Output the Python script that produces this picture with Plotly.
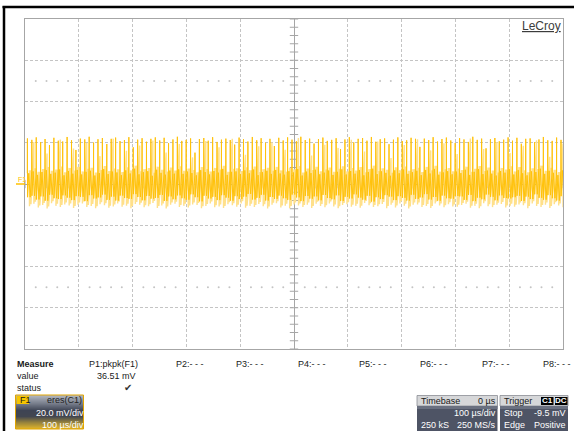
import plotly.graph_objects as go

# ---------------- data (read from the screen capture) ----------------
# time axis: 100 us/div, 10 div, centred on trigger (0 us); vertical: 20 mV/div, 8 div
x_ticks_us = [-500, -400, -300, -200, -100, 0, 100, 200, 300, 400, 500]
y_ticks_mv = [-80, -60, -40, -20, 0, 20, 40, 60, 80]

# switching spikes (one per cycle, 122 cycles across the 1 ms screen), mV
peak = [22.1, 21.4, 22.6, 20.3, 21.8, 18.9, 22.4, 21.0, 20.6, 22.8,
        21.2, 16.5, 22.0, 21.6, 22.9, 20.1, 21.7, 22.3, 19.4, 21.9,
        22.5, 20.8, 21.3, 22.7, 17.8, 21.5, 22.2, 20.5, 21.9, 22.6,
        21.1, 22.4, 19.8, 21.6, 22.9, 20.9, 21.4, 22.1, 15.2, 21.8,
        22.3, 21.0, 22.7, 20.4, 21.5, 22.0, 21.3, 19.1, 22.5, 21.7,
        20.6, 22.8, 21.2, 22.2, 20.0, 21.9, 18.4, 22.4, 21.1, 22.6,
        21.5, 20.7, 22.9, 21.3, 22.0, 19.6, 21.8, 22.5, 20.9, 21.4,
        22.2, 16.9, 21.6, 22.7, 20.2, 21.9, 22.3, 21.0, 22.8, 20.5,
        21.7, 22.1, 19.3, 21.5, 22.6, 20.8, 21.2, 22.4, 21.9, 18.0,
        22.0, 21.3, 22.7, 20.6, 21.8, 22.5, 21.1, 19.9, 22.2, 21.6,
        20.4, 22.9, 21.4, 22.0, 17.3, 21.7, 22.3, 20.7, 21.5, 22.6,
        21.0, 22.4, 19.5, 21.9, 22.1, 20.3, 21.6, 22.8, 21.2, 20.9,
        22.5, 21.4]

# upper edge of the dense ripple band, mV
band_top = [5.2, 6.1, 4.4, 5.8, 6.7, 4.9, 5.5, 7.0, 4.2, 6.3,
            5.0, 6.8, 4.6, 5.9, 6.4, 4.1, 5.3, 7.2, 4.8, 6.0,
            5.6, 4.3, 6.6, 5.1, 7.4, 4.7, 5.7, 6.2, 4.0, 6.9,
            5.4, 4.5, 6.5, 5.0, 7.1, 4.9, 6.0, 5.3, 4.2, 6.7,
            5.8, 4.6, 6.3, 5.5, 7.3, 4.4, 5.9, 6.1, 4.8, 6.6,
            5.2, 7.0, 4.3, 5.7, 6.4, 4.9, 6.8, 5.1, 4.5, 6.2,
            5.6, 7.2, 4.1, 6.0, 5.3, 6.9, 4.7, 5.5, 6.5, 4.4,
            5.9, 7.1, 4.6, 6.3, 5.0, 6.7, 4.2, 5.8, 7.4, 4.8,
            6.1, 5.4, 4.0, 6.6, 5.2, 7.0, 4.9, 5.7, 6.4, 4.3,
            6.8, 5.1, 7.3, 4.5, 5.6, 6.2, 4.7, 6.0, 5.3, 6.9,
            4.4, 5.9, 7.2, 4.8, 6.5, 5.0, 4.1, 6.3, 5.5, 7.1,
            4.6, 6.7, 5.2, 4.2, 6.1, 5.8, 7.4, 4.9, 6.4, 5.4,
            4.3, 6.6]

# lower edge of the dense ripple band, mV
band_bot = [-6.4, -5.7, -7.5, -6.0, -8.1, -5.2, -6.9, -7.3, -5.5, -6.6,
            -7.8, -5.9, -6.2, -8.3, -5.4, -7.0, -6.5, -5.1, -7.7, -6.1,
            -8.0, -5.6, -6.8, -7.2, -4.9, -6.3, -7.9, -5.8, -7.1, -6.7,
            -5.3, -8.2, -6.0, -7.4, -5.5, -6.9, -7.6, -5.0, -6.4, -8.4,
            -5.7, -7.0, -6.2, -7.8, -5.4, -6.6, -8.1, -5.9, -7.3, -6.1,
            -4.8, -7.5, -6.7, -5.2, -8.0, -6.3, -7.2, -5.6, -6.9, -7.7,
            -5.1, -6.5, -8.3, -5.8, -7.1, -6.0, -7.9, -5.3, -6.8, -7.4,
            -5.5, -8.2, -6.2, -7.0, -5.0, -6.6, -7.6, -5.7, -8.5, -6.4,
            -7.3, -5.4, -6.1, -7.8, -5.9, -6.7, -8.0, -5.2, -7.2, -6.5,
            -4.9, -7.5, -6.3, -8.1, -5.6, -6.9, -7.1, -5.8, -6.0, -7.7,
            -5.3, -8.3, -6.6, -7.4, -5.1, -6.2, -7.9, -5.5, -6.8, -7.0,
            -6.4, -5.7, -8.2, -6.1, -7.3, -5.0, -6.7, -7.6, -5.4, -6.9,
            -8.0, -5.9]

# faint (persistence) negative excursions, mV
dip = [-10.8, -9.6, -11.4, -10.2, -11.9, -9.3, -10.6, -11.1, -9.9, -10.4,
       -11.6, -10.0, -9.5, -11.2, -10.7, -11.8, -9.8, -10.3, -11.5, -10.9,
       -9.4, -11.0, -10.5, -11.7, -9.7, -10.1, -11.3, -10.8, -9.2, -11.6,
       -10.4, -11.9, -10.0, -9.6, -11.1, -10.6, -11.4, -9.9, -10.2, -11.8,
       -10.7, -9.5, -11.3, -10.9, -11.6, -9.8, -10.3, -11.0, -9.4, -11.5,
       -10.6, -11.2, -9.7, -10.8, -11.9, -10.1, -9.3, -11.4, -10.5, -11.7,
       -9.9, -10.4, -11.1, -10.0, -11.6, -9.6, -10.7, -11.3, -9.5, -10.9,
       -11.8, -10.2, -9.8, -11.0, -10.6, -11.5, -9.2, -10.3, -11.2, -10.8,
       -9.7, -11.7, -10.1, -11.4, -9.4, -10.5, -11.9, -10.0, -9.9, -11.1,
       -10.7, -11.6, -9.5, -10.4, -11.3, -9.8, -10.9, -11.0, -10.2, -9.6,
       -11.5, -10.6, -11.8, -9.3, -10.8, -11.2, -10.1, -9.7, -11.4, -10.5,
       -11.0, -9.9, -10.3, -11.7, -9.4, -10.7, -11.1, -10.0, -11.6, -9.8,
       -10.4, -11.3]

# faint (persistence) positive spikes, on every third cycle, mV
faint_peak = [20.4, 14.8, 21.6, 17.2, 19.9, 13.5, 22.0, 16.1, 18.7, 21.1,
              15.3, 19.4, 12.9, 20.8, 17.8, 21.9, 14.2, 18.3, 20.1, 16.6,
              22.3, 13.8, 19.0, 17.5, 21.4, 15.7, 20.6, 12.6, 18.9, 21.7,
              16.3, 19.7, 14.5, 22.1, 17.0, 20.3, 15.0, 18.5, 21.2, 13.2,
              19.6]

measure_labels = ["P1:pkpk(F1)", "P2:- - -", "P3:- - -", "P4:- - -", "P5:- - -",
                  "P6:- - -", "P7:- - -", "P8:- - -"]
measure_value = "36.51 mV"

# ---------------- build traces ----------------
N = len(peak)
x_min, x_max = x_ticks_us[0], x_ticks_us[-1]
y_min, y_max = y_ticks_mv[0], y_ticks_mv[-1]
period = (x_max - x_min) / N
t0 = x_min + 4.5

SAT = "#FFC20A"
LIGHT = "#FFE08A"
GRID = "#c4c4c4"
AXIS = "#a6a6a6"

sat_x, sat_y, lt_x, lt_y = [], [], [], []
k = 0
for i in range(N):
    t = t0 + i * period
    sat_x += [t - 0.03 * period, t, t + 0.03 * period, t + 0.3 * period,
              t + 0.62 * period]
    sat_y += [band_top[i], peak[i], band_bot[i], band_top[i], band_bot[i]]
    top = band_top[i] + 1.5
    if i % 3 == 1:
        top = faint_peak[k]
        k += 1
    lt_x += [t + 0.45 * period, t + 0.47 * period, t + 0.78 * period, t + 0.80 * period]
    lt_y += [top, dip[i], band_top[i] + 1.5, dip[i] + 1.0]

fig = go.Figure()

# graticule dots at +/-50 mV rows
dot_x = [v for v in range(x_min + 20, x_max, 20) if v % 100 != 0]
fig.add_trace(go.Scatter(x=dot_x * 2, y=[50] * len(dot_x) + [-50] * len(dot_x),
                         mode="markers", marker=dict(size=2, color="#c4c4c4"),
                         hoverinfo="skip", showlegend=False))

# centre-axis minor ticks
tick_y = [v for v in range(y_min, y_max + 1, 4) if v != 0]
fig.add_trace(go.Scatter(x=[0] * len(tick_y), y=tick_y, mode="markers",
                         marker=dict(symbol="line-ew", size=6,
                                     line=dict(color=AXIS, width=1)),
                         hoverinfo="skip", showlegend=False))
tick_x = [v for v in range(x_min, x_max + 1, 20) if v != 0]
fig.add_trace(go.Scatter(x=tick_x, y=[0] * len(tick_x), mode="markers",
                         marker=dict(symbol="line-ns", size=6,
                                     line=dict(color=AXIS, width=1)),
                         hoverinfo="skip", showlegend=False))

fig.add_trace(go.Scatter(x=lt_x, y=lt_y, mode="lines",
                         line=dict(color=LIGHT, width=1.4),
                         hoverinfo="skip", showlegend=False))
fig.add_trace(go.Scatter(x=sat_x, y=sat_y, mode="lines",
                         line=dict(color=SAT, width=1.0),
                         hoverinfo="skip", showlegend=False))

# trigger position marker below the grid
fig.add_trace(go.Scatter(x=[0], y=[y_min - 4.0], mode="markers", cliponaxis=False,
                         marker=dict(symbol="triangle-up", size=8, color="#FFC000"),
                         hoverinfo="skip", showlegend=False))

# ---------------- layout helpers (pixel -> paper) ----------------
W, H = 574, 431
ML, MR, MT, MB = 25, 11, 19, 82
PW, PH = W - ML - MR, H - MT - MB


def PX(x):
    return (x - ML) / PW


def PY(y):
    return (H - MB - y) / PH


shapes = []
annotations = []
FS = 9


def rect(x0, y0, x1, y1, fill, line_color=None, lw=0):
    shapes.append(dict(type="rect", xref="paper", yref="paper",
                       x0=PX(x0), x1=PX(x1), y0=PY(y1), y1=PY(y0),
                       fillcolor=fill, line=dict(color=line_color or fill, width=lw),
                       layer="above"))


def line(x0, y0, x1, y1, color, w):
    shapes.append(dict(type="line", xref="paper", yref="paper",
                       x0=PX(x0), x1=PX(x1), y0=PY(y0), y1=PY(y1),
                       line=dict(color=color, width=w), layer="above"))


def text(x, y, s, anchor="left", color="#1a1a1a", size=FS, bold=False, fam="Liberation Sans"):
    if bold:
        s = "<b>" + s + "</b>"
    annotations.append(dict(xref="paper", yref="paper", x=PX(x), y=PY(y), text=s,
                            xanchor=anchor, yanchor="middle", showarrow=False,
                            font=dict(family=fam, size=size, color=color)))


# outer black frame
line(2.5, 7, 574, 7, "#000000", 2.5)
line(4, 6, 4, 431, "#000000", 2.5)

# LeCroy logo
text(563, 26, "<u>LeCroy</u>", anchor="right", color="#3c3c3c", size=12)

# F1 trace marker on left
text(15.5, 179.5, "F1", color="#FFC000", size=7)
line(16, 184, 25, 184, "#FFC000", 1.5)

# measurement table
text(15, 364, "Measure", bold=True)
text(15, 375.5, "value")
text(15, 387.5, "status")
mx = [87, 174, 234, 296, 357, 418, 480, 541]
for lbl, xx in zip(measure_labels, mx):
    text(xx, 364, lbl)
text(138, 375.5, measure_value, anchor="right")
text(134, 387.5, "✔", anchor="right", fam="DejaVu Sans", size=10, color="#333333")


# F1 descriptor box with gradient
def lerp(c1, c2, f):
    return "#%02x%02x%02x" % tuple(int(round(a + (b - a) * f)) for a, b in zip(c1, c2))


stops = [(395, (178, 183, 192)), (403, (120, 126, 140)), (410, (62, 68, 84)),
         (416, (66, 70, 80)), (422, (150, 130, 60)), (429, (232, 186, 40))]
y = 395.0
while y < 429:
    for (ya, ca), (yb, cb) in zip(stops[:-1], stops[1:]):
        if ya <= y < yb:
            col = lerp(ca, cb, (y - ya) / (yb - ya))
    rect(15.5, y, 83.5, y + 1.05, col)
    y += 1.0
rect(15.5, 395, 83.5, 429, "rgba(0,0,0,0)", "#E0A400", 1)
rect(16.5, 396, 29, 404, "#F7C600")
text(17.5, 400.3, "F1", color="#1a1a1a")
text(84, 400.3, "eres(C1)", anchor="right", color="#222222")
text(86, 413, "20.0 mV/div", anchor="right", color="#ffffff")
text(86, 424.5, "100 µs/div", anchor="right", color="#ffffff")

# Timebase box
rect(417, 395.5, 497.5, 406, "#d6d7d9", "#8a8d94", 0.8)
rect(417, 406, 497.5, 431, "#4e5465", "#4e5465", 0)
rect(417, 406, 497.5, 409, "#6a7080", "#6a7080", 0)
text(419, 401, "Timebase")
text(498, 401, "0 µs", anchor="right")
text(498, 412.5, "100 µs/div", anchor="right", color="#ffffff")
text(419, 424.5, "250 kS", color="#ffffff")
text(498, 424.5, "250 MS/s", anchor="right", color="#ffffff")

# Trigger box
rect(500, 395.5, 568, 406, "#d6d7d9", "#8a8d94", 0.8)
rect(500, 406, 568, 431, "#4e5465", "#4e5465", 0)
rect(500, 406, 568, 409, "#6a7080", "#6a7080", 0)
text(502, 401, "Trigger")
rect(541, 397, 553.5, 405, "#000000")
rect(555, 397, 567.5, 405, "#000000")
text(547.2, 401, "C1", anchor="center", size=8, color="#ffffff", bold=True)
text(561.3, 401, "DC", anchor="center", size=8, color="#ffffff", bold=True)
text(502, 412.5, "Stop", color="#ffffff")
text(568, 412.5, "-9.5 mV", anchor="right", color="#ffffff")
text(502, 424.5, "Edge", color="#ffffff")
text(568, 424.5, "Positive", anchor="right", color="#ffffff")

fig.update_layout(
    width=W, height=H,
    margin=dict(l=ML, r=MR, t=MT, b=MB, pad=0),
    paper_bgcolor="#ffffff", plot_bgcolor="#ffffff",
    showlegend=False,
    shapes=shapes, annotations=annotations,
    xaxis=dict(range=[x_min, x_max], tickvals=x_ticks_us, showticklabels=False,
               ticks="", showgrid=True, gridcolor=GRID, griddash="3px,2px", gridwidth=1,
               zeroline=True, zerolinecolor=AXIS, zerolinewidth=1.2,
               showline=True, mirror=True, linecolor=AXIS, linewidth=1, fixedrange=True),
    yaxis=dict(range=[y_min, y_max], tickvals=y_ticks_mv, showticklabels=False,
               ticks="", showgrid=True, gridcolor=GRID, griddash="3px,2px", gridwidth=1,
               zeroline=True, zerolinecolor=AXIS, zerolinewidth=1.2,
               showline=True, mirror=True, linecolor=AXIS, linewidth=1, fixedrange=True),
)

fig.write_html("out.html", config={"displayModeBar": False},
               post_script="document.body.style.margin='0';document.body.style.overflow='hidden';")
